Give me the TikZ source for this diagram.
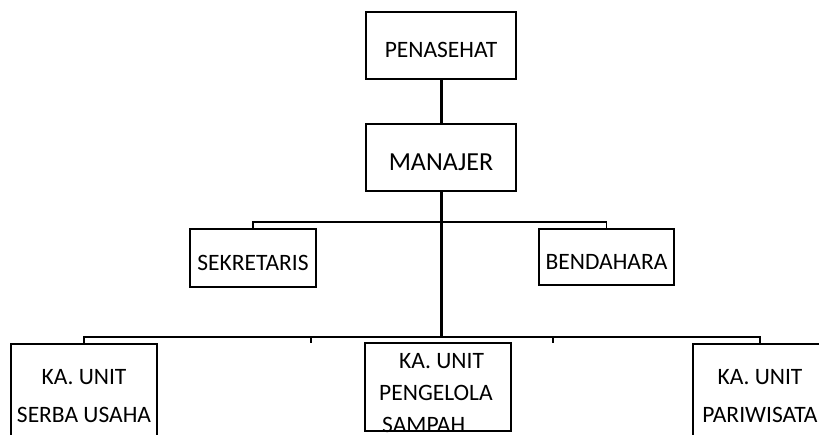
\documentclass[tikz,border=0pt]{standalone}
\usepackage{fontspec}
\setmainfont{Carlito}
\usetikzlibrary{positioning}
\tikzset{
  block/.style={draw,line width=1.6pt,inner sep=0pt,font=\fontsize{23.5}{28}\selectfont,text height=24pt,text depth=0pt},
  lines/.style={inner sep=0pt,font=\fontsize{23.5}{38.5}\selectfont},
  link/.style={line width=1.6pt},
  trunk/.style={line width=3pt},
}
\begin{document}
\begin{tikzpicture}[x=1pt,y=-1pt]
  \useasboundingbox (0,0) rectangle (819,434);
  % upper boxes
  \node[block,minimum width=150pt,minimum height=67pt] (penasehat) at (441,45.5) {PENASEHAT};
  \node[block,minimum width=150pt,minimum height=67pt,font=\fontsize{26}{30}\selectfont,text height=25.4pt] (manajer) at (441,157.5) {MANAJER};
  \node[block,minimum width=126pt,minimum height=58pt] (sekretaris) at (253,258) {SEKRETARIS};
  \node[block,minimum width=135pt,minimum height=56pt] (bendahara) at (606.5,257) {BENDAHARA};
  % unit boxes
  \node[block,minimum width=146pt,minimum height=130pt] (serba) at (84,409) {};
  \node[block,minimum width=146pt,minimum height=88pt] (sampah) at (438,387) {};
  \node[block,minimum width=134pt,minimum height=130pt] (wisata) at (760,409) {};
  \node[lines,anchor=north,align=center] (serba-text) at (84,369) {KA. UNIT\\SERBA USAHA};
  \node[lines,anchor=north west,align=left,font=\fontsize{23.5}{32}\selectfont] (sampah-text) at (379,353) {\hspace*{20pt}KA. UNIT\\PENGELOLA\\\hspace*{3pt}SAMPAH};
  \node[lines,anchor=north,align=center] (wisata-text) at (760,369) {KA. UNIT\\PARIWISATA};
  % lines
  \coordinate (bus) at (441,338);
  \coordinate (stubL) at (311,338);
  \coordinate (stubR) at (553,338);
  \draw[trunk] (penasehat) -- (manajer);
  \draw[trunk] (manajer) -- (bus);
  \draw[link] (sekretaris.north) -- ++(0,-6) -| (bendahara.north);
  \draw[link] (serba.north) -- ++(0,-6) -| (wisata.north);
  \draw[link] (stubL) -- ++(0,5);
  \draw[link] (stubR) -- ++(0,5);
\end{tikzpicture}
\end{document}
